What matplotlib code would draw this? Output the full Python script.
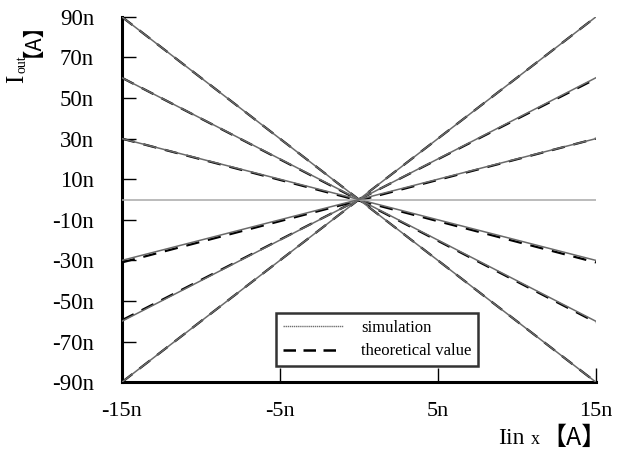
import matplotlib
matplotlib.use("Agg")
from matplotlib import pyplot as plt
import numpy as np

# datos (nA)
x_ends = [-15, 15]
sim_left = [90, 60, 30, 0, -30, -60, -90]
sim_right = [-90, -60, -30, 0, 30, 60, 90]
teo_left = [90, 60, 30, -31, -59.5, -90]
teo_right = [-90, -60.5, -31, 30, 59.5, 90]

xticks = [-15, -5, 5, 15]
xlabels = ['-15n', '-5n', '5n', '15n']
yticks = [90, 70, 50, 30, 10, -10, -30, -50, -70, -90]
ylabels = [str(v) + 'n' for v in yticks]

serif = ['Liberation Serif', 'DejaVu Serif']
cjk = ['Noto Sans CJK JP', 'DejaVu Sans']

fig = plt.figure(figsize=(6.28, 4.55), dpi=100)
ax = fig.add_axes([0.194, 0.160, 0.755, 0.803])

# teorico (discontinuo) debajo
for yl, yr in zip(teo_left, teo_right):
    ax.plot(x_ends, [yl, yr], color='black', lw=1.6, ls=(0, (6, 4)), zorder=2)
# simulacion
for yl, yr in zip(sim_left, sim_right):
    c = '#a8a8a8' if yl == 0 else '#6a6a6a'
    ax.plot(x_ends, [yl, yr], color=c, lw=1.1, zorder=3)

ax.set_xlim(-15, 15)
ax.set_ylim(-90, 90)
ax.spines['top'].set_visible(False)
ax.spines['right'].set_visible(False)
ax.spines['left'].set_linewidth(2.2)
ax.spines['bottom'].set_linewidth(2.2)
ax.set_xticks(xticks)
ax.set_xticklabels(xlabels, fontfamily=serif, fontsize=16)
ax.set_yticks(yticks)
ax.set_yticklabels(ylabels, fontfamily=serif, fontsize=16.5)
ax.tick_params(direction='in', length=10, width=1)
ax.tick_params(axis='y', pad=20)
ax.tick_params(axis='x', pad=14)

# leyenda
ax.plot([], [], color='#707070', lw=1.0, ls=(0, (1, 0.5)), label='simulation')
ax.plot([], [], color='black', lw=1.8, ls=(0, (5, 3)), label='theoretical value')
h, l = ax.get_legend_handles_labels()
leg = ax.legend(h[-2:], l[-2:], loc='lower left', bbox_to_anchor=(0.325, 0.044),
                borderaxespad=0, frameon=True, fancybox=False, edgecolor='black',
                prop={'family': serif, 'size': 12}, handlelength=3.6,
                borderpad=0.4, labelspacing=0.45, handletextpad=1.1)
leg.get_frame().set_linewidth(1.8)

# etiqueta eje y
fig.text(0.027, 0.826, 'I', rotation=90, fontfamily=serif, fontsize=18,
         ha='center', va='center')
fig.text(0.035, 0.859, 'out', rotation=90, fontfamily=serif, fontsize=10,
         ha='center', va='center')
fig.text(0.034, 0.999, '【A】', rotation=90, fontfamily=cjk, fontsize=15.5,
         ha='center', va='top')

# etiqueta eje x
fig.text(0.793, 0.037, 'Iin', fontfamily=serif, fontsize=17, ha='left', va='center')
fig.text(0.846, 0.033, 'x', fontfamily=serif, fontsize=13, ha='left', va='center')
fig.text(0.862, 0.037, '【A】', fontfamily=cjk, fontsize=18, ha='left', va='center')

plt.savefig('out.png', dpi=100)
